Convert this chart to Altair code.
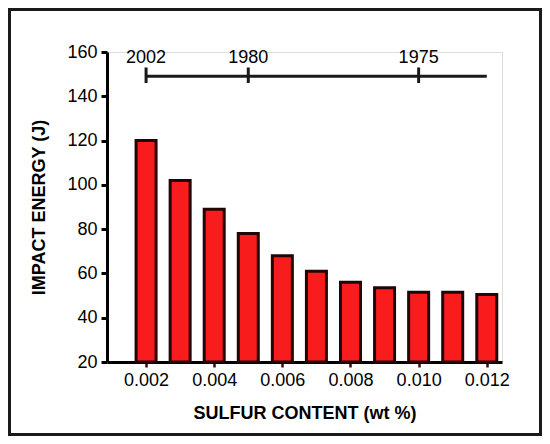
import altair as alt
import pandas as pd

sulfur = [0.002, 0.003, 0.004, 0.005, 0.006, 0.007, 0.008, 0.009, 0.010, 0.011, 0.012]
energy = [120, 102, 89, 78, 68, 61, 56, 53.5, 51.5, 51.5, 50.5]

year_pos = [0.002, 0.005, 0.010]
year_lbl = ["2002", "1980", "1975"]
timeline_x = [0.002, 0.012]
timeline_y = 149
tick_lo, tick_hi = 146, 153
label_y = 157.3

FONT = "Liberation Sans"

bars_df = pd.DataFrame({"s": sulfur, "e": energy})
years_df = pd.DataFrame({"s": year_pos, "yr": year_lbl, "lo": tick_lo, "hi": tick_hi, "ly": label_y})
line_df = pd.DataFrame({"s": [timeline_x[0]], "s2": [timeline_x[1]], "y": [timeline_y]})
frame_df = pd.DataFrame({"a": [0]})

xscale = alt.Scale(domain=[0.001, 0.0123], nice=False, zero=False)
yscale = alt.Scale(domain=[20, 160], nice=False, zero=False)

xaxis = alt.Axis(
    values=[0.002, 0.004, 0.006, 0.008, 0.010, 0.012], format=".3f",
    title="SULFUR CONTENT (wt %)", grid=False,
    domainColor="black", domainWidth=3, tickColor="#3a0c0c", tickWidth=2.5, tickSize=5,
    labelFont=FONT, labelFontSize=18, labelColor="black", labelPadding=4,
    titleFont=FONT, titleFontSize=18, titleFontWeight="bold", titleColor="black", titlePadding=15,
)
yaxis = alt.Axis(
    values=[20, 40, 60, 80, 100, 120, 140, 160], title="IMPACT ENERGY (J)", grid=False,
    domainColor="black", domainWidth=3, tickColor="black", tickWidth=3, tickSize=6,
    labelFont=FONT, labelFontSize=18, labelColor="black", labelPadding=4,
    titleFont=FONT, titleFontSize=18, titleFontWeight="bold", titleColor="black", titlePadding=18,
)

bars = alt.Chart(bars_df).mark_bar(
    size=20, color="#f81c1c", stroke="#220606", strokeWidth=3
).encode(
    x=alt.X("s:Q", scale=xscale, axis=xaxis),
    y=alt.Y("e:Q", scale=yscale, axis=yaxis),
    y2=alt.datum(20),
)

tl = alt.Chart(line_df).mark_rule(color="#1a1a1a", strokeWidth=3).encode(
    x=alt.X("s:Q", scale=xscale), x2="s2:Q", y=alt.Y("y:Q", scale=yscale)
)
ticks = alt.Chart(years_df).mark_rule(color="#1a1a1a", strokeWidth=3).encode(
    x=alt.X("s:Q", scale=xscale), y=alt.Y("lo:Q", scale=yscale), y2="hi:Q"
)
labels = alt.Chart(years_df).mark_text(
    font=FONT, fontSize=18, color="black", baseline="middle", align="center"
).encode(
    x=alt.X("s:Q", scale=xscale), y=alt.Y("ly:Q", scale=yscale), text="yr:N"
)

frame = alt.Chart(frame_df).mark_rect(filled=False, stroke="#1a1a1a", strokeWidth=3).encode(
    x=alt.value(-97.5), x2=alt.value(433.5), y=alt.value(-42.5), y2=alt.value(382.5)
)

chart = alt.layer(bars, tl, ticks, labels, frame).properties(
    width=395, height=310,
    autosize=alt.AutoSizeParams(type="none"),
    padding={"left": 99, "top": 44, "right": 40, "bottom": 74},
).configure_view(stroke=None).configure(background="white")

chart.save("out.html", embed_options={"renderer": "svg", "actions": False})
